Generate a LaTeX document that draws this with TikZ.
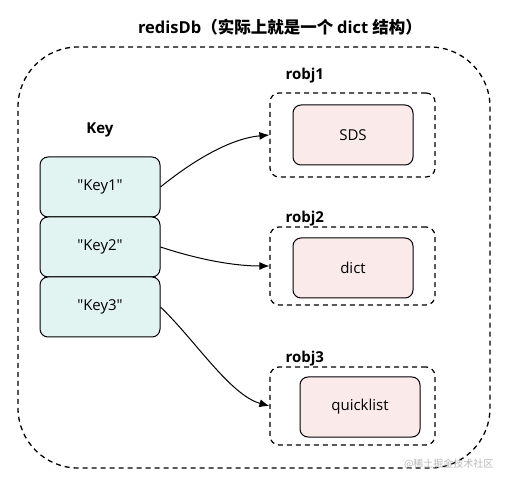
\documentclass[tikz,border=0pt]{standalone}
\usepackage{fontspec}
\setmainfont{Open Sans}
\newfontfamily\cjk{Noto Sans CJK SC}
\usetikzlibrary{arrows.meta}
\definecolor{keyfill}{HTML}{E2F4F2}
\definecolor{objfill}{HTML}{FAEBEA}
\begin{document}
\begin{tikzpicture}[x=1pt,y=-1pt,
  outerbox/.style={draw, line width=1.3pt, dash pattern=on 5pt off 4pt, rounded corners=60pt},
  robjbox/.style={draw, line width=1.2pt, dash pattern=on 5pt off 4pt, rounded corners=9pt},
  keybox/.style={draw, line width=1pt, fill=keyfill, rounded corners=8pt, minimum width=120pt, minimum height=60pt, font=\fontsize{15}{17}\selectfont},
  valbox/.style={draw, line width=1pt, fill=objfill, rounded corners=8pt, minimum width=120pt, minimum height=60pt, font=\fontsize{15}{17}\selectfont},
  lbl/.style={font=\bfseries\fontsize{15}{17}\selectfont},
  conn/.style={-{Latex[length=10pt,width=8pt]}, line width=1pt}]
\useasboundingbox (0,0) rectangle (507,484);
\fill[white] (0,0) rectangle (507,484);
% outer
\node[outerbox, minimum width=472pt, minimum height=421pt] (db) at (254,257.5) {};
\node[lbl, font=\bfseries\fontsize{16.5}{18}\selectfont] (title) at (280,27) {redisDb{\cjk\bfseries （实际上就是一个\ }dict\ {\cjk\bfseries 结构）}};
% keys
\node[lbl] (keylbl) at (100,130) {Key};
\node[keybox] (k1) at (100,187) {\textquotedbl Key1\textquotedbl};
\node[keybox] (k2) at (100,247) {\textquotedbl Key2\textquotedbl};
\node[keybox] (k3) at (100,307) {\textquotedbl Key3\textquotedbl};
% robjs
\node[robjbox, minimum width=165pt, minimum height=84pt] (r1) at (352.5,135) {};
\node[lbl, anchor=south west] (r1l) at (282,87) {robj1};
\node[valbox] (v1) at (353,135) {SDS};
\node[robjbox, minimum width=165pt, minimum height=78pt] (r2) at (352.5,266) {};
\node[lbl, anchor=south west] (r2l) at (282,230) {robj2};
\node[valbox] (v2) at (353,268) {dict};
\node[robjbox, minimum width=165pt, minimum height=78pt] (r3) at (352.5,406) {};
\node[lbl, anchor=south west] (r3l) at (282,370) {robj3};
\node[valbox] (v3) at (360,407) {quicklist};
% connectors
\draw[conn] (k1.east) .. controls (200,155) and (235,138) .. (r1.west);
\draw[conn] (k2.east) .. controls (200,260) and (235,266) .. (r2.west);
\draw[conn] (k3.east) .. controls (195,340) and (230,395) .. (r3.west);
% watermark
\node[text=gray!55, font=\cjk\fontsize{10}{12}\selectfont, anchor=east] (wm) at (497,464) {@稀土掘金技术社区};
\end{tikzpicture}
\end{document}
